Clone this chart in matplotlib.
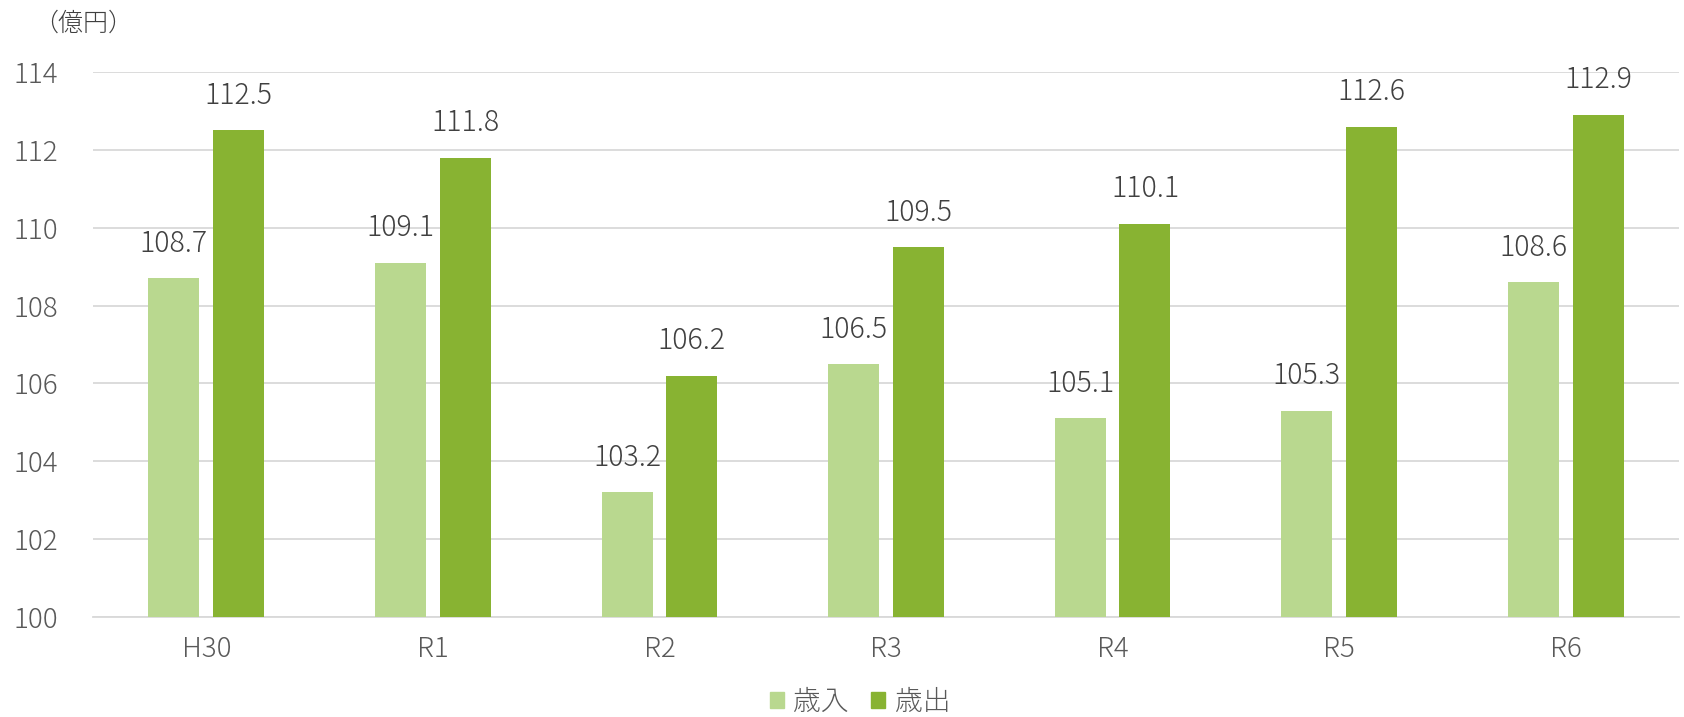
import numpy as np
import matplotlib.pyplot as plt
from matplotlib.patches import Patch

plt.rcParams['font.family'] = ['Noto Sans CJK JP', 'DejaVu Sans']

# データ
categories = ['H30', 'R1', 'R2', 'R3', 'R4', 'R5', 'R6']
revenue = [108.7, 109.1, 103.2, 106.5, 105.1, 105.3, 108.6]      # 歳入
expenditure = [112.5, 111.8, 106.2, 109.5, 110.1, 112.6, 112.9]  # 歳出
series_names = ['歳入', '歳出']

light = '#B9D88F'
dark = '#88B332'
text_gray = '#595959'

fig = plt.figure(figsize=(16.84, 7.17), dpi=100)
ax = fig.add_axes([93 / 1684, 1 - 617 / 717, (1679 - 93) / 1684, (617 - 72) / 717])

x = np.arange(len(categories))
w = 0.225
off = 0.143
ax.bar(x - off, np.array(revenue) - 100, w, bottom=100, color=light, zorder=3)
ax.bar(x + off, np.array(expenditure) - 100, w, bottom=100, color=dark, zorder=3)

for xs, vals in [(x - off, revenue), (x + off, expenditure)]:
    for xi, v in zip(xs, vals):
        ax.annotate(f'{v:.1f}', (xi, v), xytext=(0, 14), textcoords='offset points',
                    ha='center', va='bottom', fontsize=20.5, fontweight='light', color='#404040')

ax.set_xlim(-0.5, len(categories) - 0.5)
ax.set_ylim(100, 114)
ax.set_yticks(range(100, 115, 2))
ax.set_xticks(x)
ax.set_xticklabels(categories)
ax.tick_params(axis='both', length=0, labelsize=20, colors=text_gray)
ax.tick_params(axis='y', pad=25)
ax.tick_params(axis='x', pad=13)
for lab in ax.get_xticklabels() + ax.get_yticklabels():
    lab.set_fontweight('light')
ax.grid(axis='y', color='#D9D9D9', linewidth=1.3, zorder=0)
for s in ['top', 'right', 'left']:
    ax.spines[s].set_visible(False)
ax.spines['bottom'].set_color('#D9D9D9')
ax.spines['bottom'].set_linewidth(1.3)

fig.text(33 / 1684, 1 - 23 / 717, '（億円）', fontsize=18, fontweight='light', color='#404040',
         ha='left', va='center')

handles = [Patch(color=light), Patch(color=dark)]
fig.legend(handles, series_names, loc='center', bbox_to_anchor=(860 / 1684, 1 - 702 / 717),
           ncol=2, frameon=False, prop={'size': 20, 'weight': 'light'},
           handlelength=0.5, handleheight=0.5, handletextpad=0.35, columnspacing=0.8,
           labelcolor=text_gray)

fig.savefig('out.png', dpi=100)
